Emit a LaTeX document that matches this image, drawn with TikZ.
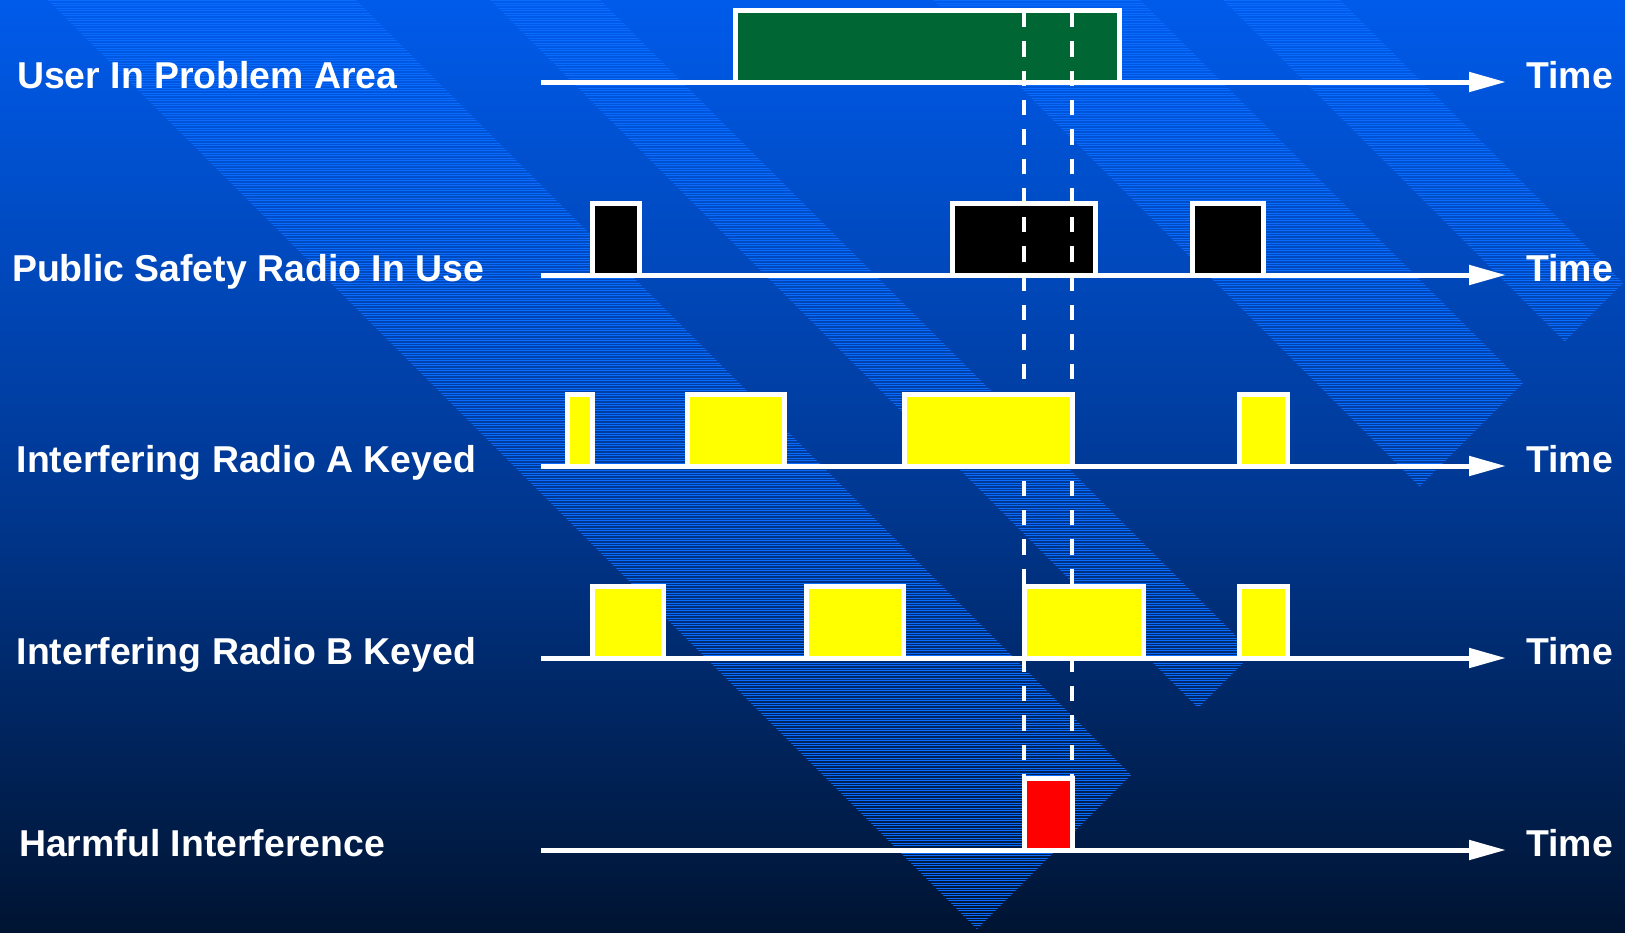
\documentclass[tikz,border=0pt]{standalone}
\usepackage{fontspec}
\setmainfont{Liberation Sans}
\usetikzlibrary{arrows.meta}

\definecolor{bgtop}{RGB}{0,91,235}
\definecolor{bgmid}{RGB}{0,58,152}
\definecolor{bgbot}{RGB}{0,20,50}
\definecolor{hatch}{RGB}{10,108,255}
\definecolor{usergreen}{RGB}{0,102,51}
\definecolor{keyyellow}{RGB}{255,255,0}

\begin{document}
\begin{tikzpicture}[x=1pt, y=-1pt,
    lbl/.style={anchor=base west, inner sep=0pt, text=white, font=\bfseries\fontsize{37.4}{44}\selectfont},
    axis/.style={white, line width=5pt, -{Triangle[length=37pt, width=19pt]}},
    pulse/.style={draw=white, line width=5pt, inner sep=0pt, outer sep=0pt, minimum height=72pt},
    cut/.style={white, line width=4.5pt, dash pattern=on 15.3pt off 14pt, dash phase=27.3pt}]

    \useasboundingbox (0,0) rectangle (1625,932);

    % slide background
    \shade[top color=bgtop, bottom color=bgbot, middle color=bgmid] (0,0) rectangle (1625,932);
    \begin{scope}
        \clip (48,0) -- (356,0) -- (1131,775) -- (977,929) -- cycle
              (490,0) -- (600,0) -- (1253,653) -- (1198,708) -- cycle
              (933,0) -- (1140,0) -- (1523,383) -- (1419.5,486.5) -- cycle
              (1223,0) -- (1340,0) -- (1623,283) -- (1564.5,341.5) -- cycle;
        \foreach \y in {0.5,3,...,932}
            \draw[hatch, line width=1pt] (0,\y) -- (1625,\y);
    \end{scope}

    % row labels
    \node[lbl] (user lbl) at (17,88) {User In Problem Area};
    \node[lbl] (ps lbl) at (12,281) {Public Safety Radio In Use};
    \node[lbl] (a lbl) at (16.5,472) {Interfering Radio A Keyed};
    \node[lbl] (b lbl) at (16.5,664) {Interfering Radio B Keyed};
    \node[lbl] (harm lbl) at (19,856) {Harmful Interference};

    \node[lbl] (time1) at (1526,88) {Time};
    \node[lbl] (time2) at (1526,281) {Time};
    \node[lbl] (time3) at (1526,472) {Time};
    \node[lbl] (time4) at (1526,664) {Time};
    \node[lbl] (time5) at (1526,856) {Time};

    % time axes
    \coordinate (s1) at (541,82);  \coordinate (e1) at (1506,82);
    \coordinate (s2) at (541,275); \coordinate (e2) at (1506,275);
    \coordinate (s3) at (541,466); \coordinate (e3) at (1506,466);
    \coordinate (s4) at (541,658); \coordinate (e4) at (1506,658);
    \coordinate (s5) at (541,850); \coordinate (e5) at (1506,850);
    \draw[axis] (s1) -- (e1);
    \draw[axis] (s2) -- (e2);
    \draw[axis] (s3) -- (e3);
    \draw[axis] (s4) -- (e4);
    \draw[axis] (s5) -- (e5);

    % user and public safety radio
    \node[pulse, fill=usergreen, minimum width=384pt] (user) at (927.5,46) {};
    \node[pulse, fill=black, minimum width=47.5pt] (ps1) at (615.75,239) {};
    \node[pulse, fill=black, minimum width=143pt] (ps2) at (1023.5,239) {};
    \node[pulse, fill=black, minimum width=71.5pt] (ps3) at (1227.75,239) {};

    % harmful interference
    \node[pulse, fill=red, minimum width=48pt] (harm) at (1048,814) {};
    \draw[cut] (harm.north west |- user.north) -- (harm.north west);
    \draw[cut] (harm.north east |- user.north) -- (harm.north east);

    % interfering radios
    \node[pulse, fill=keyyellow, minimum width=24.5pt] (a1) at (579.75,430) {};
    \node[pulse, fill=keyyellow, minimum width=97pt] (a2) at (736,430) {};
    \node[pulse, fill=keyyellow, minimum width=167.5pt] (a3) at (988.25,430) {};
    \node[pulse, fill=keyyellow, minimum width=48pt] (a4) at (1263,430) {};

    \node[pulse, fill=keyyellow, minimum width=71pt] (b1) at (627.5,622) {};
    \node[pulse, fill=keyyellow, minimum width=97pt] (b2) at (855,622) {};
    \node[pulse, fill=keyyellow, minimum width=119pt] (b3) at (1083.5,622) {};
    \node[pulse, fill=keyyellow, minimum width=48pt] (b4) at (1263,622) {};
\end{tikzpicture}
\end{document}
